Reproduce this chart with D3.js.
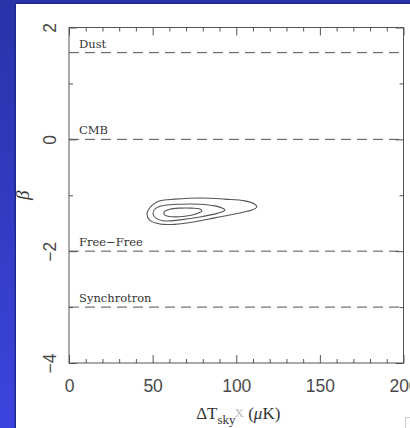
<!DOCTYPE html>
<html>
<head>
<meta charset="utf-8">
<script src="https://cdn.jsdelivr.net/npm/d3@7"></script>
<style>
  html, body { margin: 0; padding: 0; overflow: hidden; background: #2b36b0; }
  svg { display: block; }
</style>
</head>
<body>
<svg id="chart" width="410" height="428"></svg>
<script>
// Axis ticks and labels
const xMajorTicks = [0, 50, 100, 150, 200];
const xTickLabels = ["0", "50", "100", "150", "200"];
const xMinorTicks = [10, 20, 30, 40, 60, 70, 80, 90, 110, 120, 130, 140, 160, 170, 180, 190];
const yMajorTicks = [2, 0, -2, -4];
const yTickLabels = ["2", "0", "\u22122", "\u22124"];
const yMinorTicks = [1, -1, -3];

// Spectral index of each foreground component
const componentNames = ["Dust", "CMB", "Free\u2212Free", "Synchrotron"];
const componentBeta = [1.55, 0, -2, -3];

// Likelihood contours: [ΔT_sky (μK), β] around each closed ring
const contourOuter = [
  [46.6, -1.34], [49.6, -1.18], [54.4, -1.10], [63.3, -1.07], [78.3, -1.05],
  [93.2, -1.07], [105.1, -1.10], [111.1, -1.16], [112.3, -1.21], [109.3, -1.265],
  [99.2, -1.335], [87.2, -1.405], [75.3, -1.475], [63.3, -1.52], [54.4, -1.515],
  [48.4, -1.45]
];
const contourMiddle = [
  [50.2, -1.32], [52.0, -1.23], [57.3, -1.18], [66.3, -1.16], [78.3, -1.16],
  [87.2, -1.19], [92.6, -1.245], [93.2, -1.27], [89.0, -1.32], [78.3, -1.39],
  [66.3, -1.44], [57.3, -1.46], [52.0, -1.41]
];
const contourInner = [
  [56.8, -1.30], [60.3, -1.25], [66.3, -1.23], [73.5, -1.23], [78.3, -1.245],
  [79.5, -1.28], [75.9, -1.335], [69.3, -1.375], [61.5, -1.385], [57.3, -1.355]
];

const W = 410, H = 428;
const svg = d3.select("#chart");

// Blue backdrop and white panel
const defs = svg.append("defs");
const grad = defs.append("linearGradient").attr("id", "bg").attr("x1", 0).attr("y1", 0).attr("x2", 0).attr("y2", 1);
grad.append("stop").attr("offset", 0).attr("stop-color", "#2a32a8");
grad.append("stop").attr("offset", 1).attr("stop-color", "#3c44de");
svg.append("rect").attr("width", W).attr("height", H).attr("fill", "url(#bg)");
svg.append("rect").attr("x", 14.5).attr("y", 2.5).attr("width", W).attr("height", H).attr("fill", "#1f2890");
svg.append("rect").attr("x", 16).attr("y", 4).attr("width", W).attr("height", H).attr("fill", "#ffffff");

const x = d3.scaleLinear().domain([0, 200]).range([69, 403.5]);
const y = d3.scaleLinear().domain([-4, 2]).range([363, 27.5]);

const ink = "#555";
const axisFont = "'Liberation Sans', Arial, sans-serif";
const serif = "'Liberation Serif', 'Times New Roman', serif";

function styleAxis(g) {
  g.select(".domain").remove();
  g.selectAll(".tick line").attr("stroke", ink).attr("stroke-width", 1);
}

// Bottom axis: major ticks with labels, minor ticks
const bottom = svg.append("g").attr("transform", `translate(0,${y(-4)})`)
  .call(d3.axisBottom(x).tickValues(xMajorTicks).tickSize(-8).tickPadding(17)
    .tickFormat((d, i) => xTickLabels[i]));
styleAxis(bottom);
bottom.selectAll(".tick text").attr("fill", "#4a4a4a").style("font-family", axisFont).style("font-size", "17.5px");
svg.append("g").attr("transform", `translate(0,${y(-4)})`)
  .call(d3.axisBottom(x).tickValues(xMinorTicks).tickSize(-4).tickFormat(""))
  .call(styleAxis);

// Top axis ticks
svg.append("g").attr("transform", `translate(0,${y(2)})`)
  .call(d3.axisTop(x).tickValues(xMajorTicks).tickSize(-8).tickFormat(""))
  .call(styleAxis);
svg.append("g").attr("transform", `translate(0,${y(2)})`)
  .call(d3.axisTop(x).tickValues(xMinorTicks).tickSize(-4).tickFormat(""))
  .call(styleAxis);

// Left axis with rotated labels
const left = svg.append("g").attr("transform", `translate(${x(0)},0)`)
  .call(d3.axisLeft(y).tickValues(yMajorTicks).tickSize(-8)
    .tickFormat((d, i) => yTickLabels[i]));
styleAxis(left);
left.selectAll(".tick text")
  .attr("transform", "rotate(-90)")
  .attr("x", 0).attr("y", -13).attr("dy", 0)
  .attr("text-anchor", "middle")
  .attr("fill", "#4a4a4a").style("font-family", axisFont).style("font-size", "17.5px");
svg.append("g").attr("transform", `translate(${x(0)},0)`)
  .call(d3.axisLeft(y).tickValues(yMinorTicks).tickSize(-4).tickFormat(""))
  .call(styleAxis);

// Right axis ticks
svg.append("g").attr("transform", `translate(${x(200)},0)`)
  .call(d3.axisRight(y).tickValues(yMajorTicks).tickSize(-8).tickFormat(""))
  .call(styleAxis);
svg.append("g").attr("transform", `translate(${x(200)},0)`)
  .call(d3.axisRight(y).tickValues(yMinorTicks).tickSize(-4).tickFormat(""))
  .call(styleAxis);

// Frame
svg.append("rect")
  .attr("x", x(0)).attr("y", y(2))
  .attr("width", x(200) - x(0)).attr("height", y(-4) - y(2))
  .attr("fill", "none").attr("stroke", ink).attr("stroke-width", 1);

// Component reference lines
const comp = svg.append("g");
componentBeta.forEach((b, i) => {
  comp.append("line")
    .attr("x1", x(0)).attr("x2", x(200))
    .attr("y1", y(b)).attr("y2", y(b))
    .attr("stroke", ink).attr("stroke-width", 1)
    .attr("stroke-dasharray", "10,6");
  comp.append("text")
    .attr("x", x(0) + 10).attr("y", y(b) - 5)
    .attr("fill", "#333")
    .style("font-family", "'DejaVu Serif', serif")
    .style("font-size", "11.5px")
    .text(componentNames[i]);
});

// Contours
const ring = d3.line()
  .x(d => x(d[0])).y(d => y(d[1]))
  .curve(d3.curveCatmullRomClosed.alpha(0.5));
[contourOuter, contourMiddle, contourInner].forEach(c => {
  svg.append("path").attr("d", ring(c))
    .attr("fill", "none").attr("stroke", "#555").attr("stroke-width", 1.1);
});

// Axis titles
svg.append("text")
  .attr("transform", `translate(${x(0) - 40},${(y(2) + y(-4)) / 2}) rotate(-90)`)
  .attr("text-anchor", "middle")
  .attr("fill", "#333")
  .style("font-family", serif).style("font-style", "italic").style("font-size", "19px")
  .text("\u03b2");

const xt = svg.append("text")
  .attr("x", x(100) + 2).attr("y", 419)
  .attr("text-anchor", "middle")
  .attr("fill", "#333")
  .style("font-family", serif).style("font-size", "17px");
xt.append("tspan").text("\u0394T");
xt.append("tspan").attr("dy", 5).style("font-size", "13px").text("sky");
xt.append("tspan").attr("dy", -7).attr("dx", -1).attr("fill", "#bbb").style("font-size", "13px").text("X");
xt.append("tspan").attr("dy", 2).text(" (");
xt.append("tspan").style("font-style", "italic").text("\u03bc");
xt.append("tspan").text("K)");

// Small corner mark at lower right
svg.append("path").attr("d", "M405.5,428V417.5H410")
  .attr("fill", "none").attr("stroke", "#ccc").attr("stroke-width", 1);
</script>
</body>
</html>
